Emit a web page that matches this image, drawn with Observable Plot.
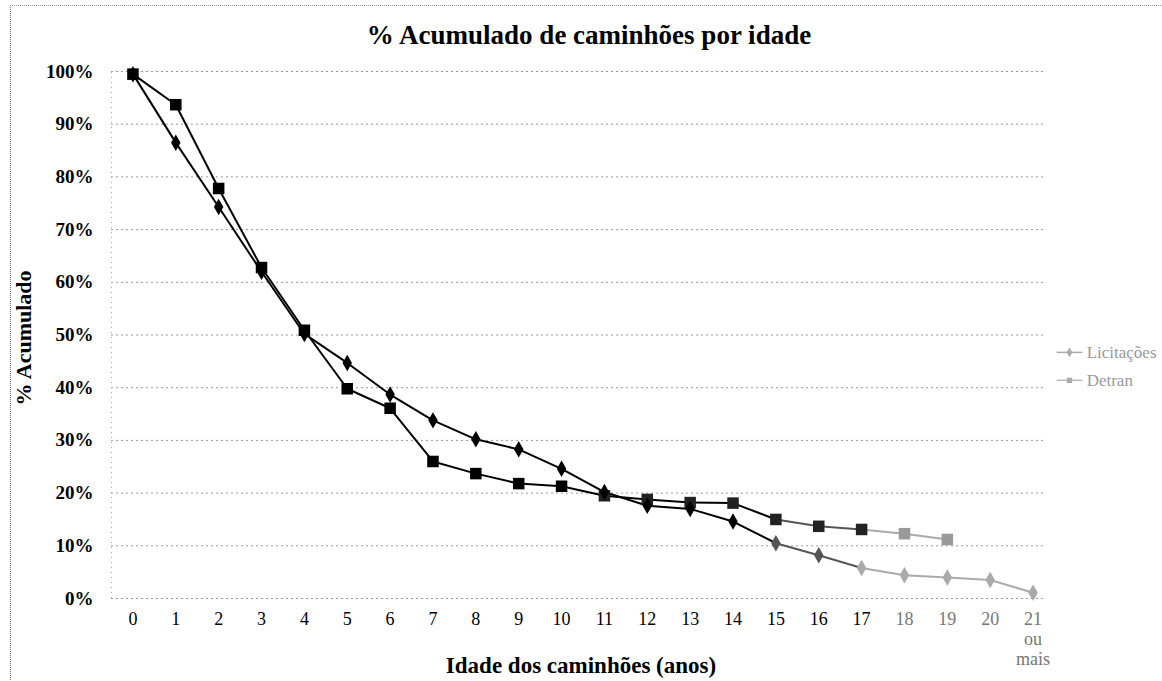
<!DOCTYPE html>
<html>
<head>
<meta charset="utf-8">
<script src="https://cdn.jsdelivr.net/npm/d3@7"></script>
<script src="https://cdn.jsdelivr.net/npm/@observablehq/plot@0.6"></script>
<style>
  html, body { margin: 0; padding: 0; background: #fff; }
  #wrap { position: relative; width: 1162px; height: 681px; overflow: hidden; font-family: "Liberation Serif", "DejaVu Serif", serif; }
  .abs { position: absolute; white-space: nowrap; color: #000; }
  #title { left: 8px; width: 1162px; top: 20px; text-align: center; font-weight: bold; font-size: 27px; }
  #xlabel { left: 0; width: 1162px; top: 653px; text-align: center; font-weight: bold; font-size: 23px; }
  #ylabel { left: 24px; top: 338px; transform: translate(-50%, -50%) rotate(-90deg); font-weight: bold; font-size: 22px; }
  #border { left: 10px; top: 5px; width: 1150px; height: 700px; border-left: 1px dotted #777; border-top: 1px dotted #999; }
  svg { position: absolute; left: 0; top: 0; }
</style>
</head>
<body>
<div id="wrap">
  <div id="border" class="abs"></div>
  <div id="title" class="abs">% Acumulado de caminhões por idade</div>
  <div id="ylabel" class="abs">% Acumulado</div>
  <div id="xlabel" class="abs">Idade dos caminhões (anos)</div>
</div>
<script>
const ages = d3.range(0, 22);
const ageLabels = ["0","1","2","3","4","5","6","7","8","9","10","11","12","13","14","15","16","17","18","19","20","21\nou\nmais"];
const seriesNames = ["Licitações", "Detran"];
const licitacoes = [99.5, 86.5, 74.3, 62.0, 50.2, 44.7, 38.7, 33.8, 30.2, 28.3, 24.6, 20.2, 17.6, 17.0, 14.6, 10.5, 8.2, 5.8, 4.4, 4.0, 3.5, 1.1];
const detran = [99.5, 93.7, 77.8, 62.8, 50.9, 39.8, 36.1, 26.0, 23.7, 21.8, 21.3, 19.5, 18.8, 18.2, 18.1, 15.0, 13.7, 13.1, 12.3, 11.2, null, null];
const yTicks = [0, 10, 20, 30, 40, 50, 60, 70, 80, 90, 100];

const rows = [];
ages.forEach((a, i) => {
  if (licitacoes[i] != null) rows.push({age: a, v: licitacoes[i], s: seriesNames[0]});
  if (detran[i] != null) rows.push({age: a, v: detran[i], s: seriesNames[1]});
});
const segs = [];
for (const [name, arr] of [[seriesNames[0], licitacoes], [seriesNames[1], detran]]) {
  for (let i = 0; i + 1 < arr.length; i++) {
    if (arr[i] != null && arr[i + 1] != null) segs.push({x1: ages[i], y1: arr[i], x2: ages[i + 1], y2: arr[i + 1], s: name});
  }
}
const tone = x => x >= 17 ? "#aaa" : (x >= 15 ? "#555" : "#000");

const chart = Plot.plot({
  width: 1162,
  height: 681,
  marginLeft: 111,
  marginRight: 108,
  marginTop: 71,
  marginBottom: 83,
  style: {fontFamily: "'Liberation Serif', serif", background: "transparent"},
  x: {domain: [-0.5, 21.5], axis: null},
  y: {domain: [0, 100], axis: null},
  marks: [
    Plot.ruleY(yTicks, {x1: -0.5, x2: 21.3, y: d => d, stroke: "#999", strokeDasharray: "2,3", strokeWidth: 1}),
    Plot.ruleX([-0.5], {y1: 0, y2: 100, stroke: "#aaa", strokeDasharray: "1,4"}),
    Plot.text(yTicks, {x: -0.5, y: d => d, text: d => d + "%", dx: -18, textAnchor: "end", fontSize: 19, fontWeight: "bold", fill: "#000"}),
    Plot.text(ages, {x: d => d, y: 0, text: (d, i) => ageLabels[i], dy: 12, lineAnchor: "top", lineHeight: 1.12, fontSize: 18, fill: d => d >= 18 ? "#777" : "#000"}),
    Plot.link(segs, {x1: "x1", y1: "y1", x2: "x2", y2: "y2", stroke: d => tone(d.x1), strokeWidth: 2}),
    Plot.dot(rows.filter(d => d.s === seriesNames[1]), {x: "age", y: "v", symbol: "square", r: 6.5, fill: d => d.age >= 18 ? "#999" : (d.age >= 11 ? "#222" : "#000"), stroke: "none"}),
    Plot.dot(rows.filter(d => d.s === seriesNames[0]), {x: "age", y: "v", symbol: "diamond", r: 5, fill: d => tone(d.age), stroke: "none"}),
    // legend
    Plot.link([0], {x1: 21.55, x2: 22.15, y1: 46.7, y2: 46.7, stroke: "#aaa", strokeWidth: 1.5, clip: false}),
    Plot.dot([0], {x: 21.85, y: 46.7, symbol: "diamond", r: 3, fill: "#aaa"}),
    Plot.text([seriesNames[0]], {x: 22.25, y: 46.7, text: d => d, textAnchor: "start", fontSize: 17, fill: "#999"}),
    Plot.link([0], {x1: 21.55, x2: 22.15, y1: 41.4, y2: 41.4, stroke: "#bbb", strokeWidth: 1.5}),
    Plot.dot([0], {x: 21.85, y: 41.4, symbol: "square", r: 3, fill: "#aaa"}),
    Plot.text([seriesNames[1]], {x: 22.25, y: 41.4, text: d => d, textAnchor: "start", fontSize: 17, fill: "#999"})
  ]
});
document.getElementById("wrap").appendChild(chart);
</script>
</body>
</html>
